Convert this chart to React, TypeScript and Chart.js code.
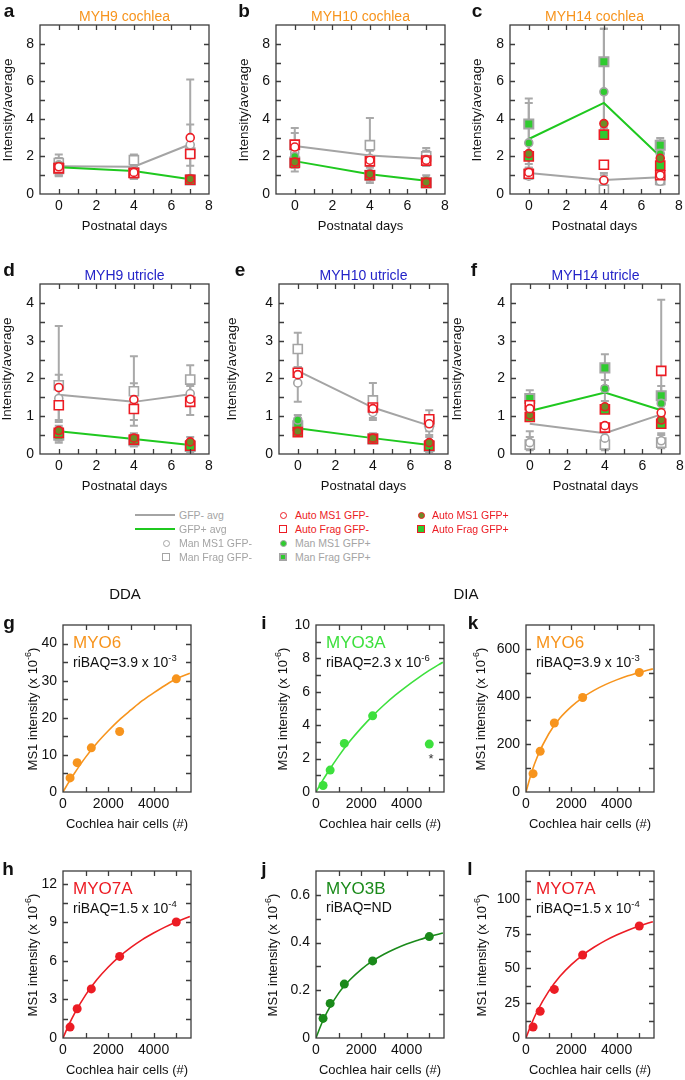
import React, { useEffect, useRef } from "react";
import { Chart, registerables } from "chart.js";

Chart.register(...registerables);

const FONT = "'Liberation Sans', Arial, Helvetica, sans-serif";
Chart.defaults.font.family = FONT;

// ---------------- panels a–f : Intensity/average vs postnatal days ----------------
const days = [0, 4, 7];
const topLetters = ["a", "b", "c", "d", "e", "f"];
const topTitles = ["MYH9 cochlea", "MYH10 cochlea", "MYH14 cochlea", "MYH9 utricle", "MYH10 utricle", "MYH14 utricle"];
const topXTicks = [-1, 0, 1, 2, 3, 4, 5, 6, 7, 8];
const topXLabels = [0, 2, 4, 6, 8];
const cochleaYTicks = [0, 1, 2, 3, 4, 5, 6, 7, 8, 9];
const cochleaYLabels = [0, 2, 4, 6, 8];
const utricleYTicks = [0, 0.5, 1, 1.5, 2, 2.5, 3, 3.5, 4, 4.5];
const utricleYLabels = [0, 1, 2, 3, 4];
const topYMax = [9, 9, 9, 4.5, 4.5, 4.5];

const gfpNegAvg = [[1.48, 1.45, 2.65], [2.55, 2.05, 1.88], [1.12, 0.75, 0.89], [1.57, 1.38, 1.58], [2.2, 1.23, 0.75], [0.8, 0.55, 1.05]];
const gfpPosAvg = [[1.42, 1.22, 0.78], [1.75, 1.05, 0.7], [2.93, 4.85, 2.0], [0.6, 0.4, 0.24], [0.68, 0.42, 0.24], [1.14, 1.63, 1.16]];

const manMs1Neg = [[1.45, 1.3, 2.62], [2.2, 1.9, 1.85], [0.95, 0.72, 0.68], [1.47, 1.3, 1.6], [1.88, 1.1, 0.7], [0.3, 0.42, 0.35]];
const manMs1NegLo = [[1.0, 0.95, 1.5], [1.5, 1.5, 1.5], [0.8, 0.4, 0.5], [0.9, 0.9, 1.03], [1.38, 0.9, 0.5], [0.15, 0.25, 0.2]];
const manMs1NegHi = [[1.9, 1.75, 3.7], [3.25, 2.3, 2.3], [1.3, 1.12, 0.9], [2.1, 1.87, 1.8], [2.3, 1.4, 0.95], [0.6, 0.6, 0.55]];

const manFragNeg = [[1.65, 1.8, 2.2], [2.6, 2.6, 2.0], [1.05, 0.23, 0.75], [1.82, 1.66, 1.97], [2.78, 1.42, 0.85], [0.25, 0.25, 0.3]];
const manFragNegLo = [[0.95, 0.8, 1.0], [1.7, 1.2, 1.5], [0.85, 0.1, 0.55], [0.85, 0.75, 1.3], [2.3, 0.95, 0.6], [0.1, 0.1, 0.15]];
const manFragNegHi = [[2.1, 2.1, 6.1], [3.52, 4.05, 2.45], [1.4, 1.0, 1.0], [3.39, 2.59, 2.35], [3.21, 1.88, 1.16], [0.45, 0.45, 0.5]];

const autoMs1Neg = [[1.45, 1.15, 3.0], [2.5, 1.8, 1.8], [1.15, 0.73, 1.0], [1.76, 1.44, 1.45], [2.1, 1.2, 0.8], [1.2, 0.75, 1.09]];
const autoFragNeg = [[1.38, 1.12, 2.13], [2.63, 1.74, 1.78], [1.08, 1.56, 1.0], [1.29, 1.19, 1.38], [2.15, 1.23, 0.92], [1.29, 0.7, 2.2]];

const manMs1Pos = [[1.55, 1.22, 0.82], [2.0, 1.1, 0.75], [2.72, 5.44, 2.15], [0.55, 0.4, 0.3], [0.9, 0.42, 0.3], [1.1, 1.73, 1.34]];
const manMs1PosLo = [[1.2, 0.95, 0.6], [1.4, 0.7, 0.5], [1.4, 3.0, 1.6], [0.35, 0.25, 0.1], [0.7, 0.3, 0.1], [0.9, 1.4, 1.0]];
const manMs1PosHi = [[1.9, 1.5, 1.0], [2.5, 1.5, 1.0], [4.85, 8.8, 2.85], [0.75, 0.55, 0.45], [1.03, 0.55, 0.45], [1.5, 1.96, 1.8]];

const manFragPos = [[1.35, 1.15, 0.75], [1.7, 1.0, 0.6], [3.73, 7.04, 2.6], [0.5, 0.35, 0.2], [0.75, 0.4, 0.2], [1.47, 2.28, 1.54]];
const manFragPosLo = [[1.0, 0.8, 0.55], [1.2, 0.59, 0.45], [1.6, 3.5, 2.0], [0.3, 0.2, 0.05], [0.5, 0.3, 0.05], [1.2, 1.8, 1.2]];
const manFragPosHi = [[1.7, 1.45, 0.95], [2.3, 1.4, 0.85], [5.08, 8.8, 2.98], [0.7, 0.5, 0.35], [0.95, 0.5, 0.35], [1.69, 2.64, 4.08]];

const autoMs1Pos = [[1.4, 1.15, 0.8], [1.7, 1.05, 0.62], [2.15, 3.75, 1.9], [0.62, 0.42, 0.32], [0.6, 0.42, 0.3], [1.03, 1.25, 0.9]];
const autoFragPos = [[1.38, 1.12, 0.76], [1.65, 1.0, 0.59], [2.0, 3.16, 1.51], [0.56, 0.38, 0.22], [0.58, 0.4, 0.22], [0.98, 1.18, 0.8]];

// ---------------- panels g–l : MS1 intensity vs cochlea hair cells ----------------
const cells = [312, 625, 1250, 2500, 5000];
const fitCells = [0, 250, 500, 1000, 1500, 2000, 2500, 3000, 3500, 4000, 4500, 5000, 5600];
const bottomLetters = ["g", "h", "i", "j", "k", "l"];
const proteins = ["MYO6", "MYO7A", "MYO3A", "MYO3B", "MYO6", "MYO7A"];
const riBAQMantissa = ["3.9 x 10", "1.5 x 10", "2.3 x 10", "ND", "3.9 x 10", "1.5 x 10"];
const riBAQExponent = ["-3", "-4", "-6", "", "-3", "-4"];
const ms1Points = [
  [3.8, 7.9, 11.9, 16.3, 30.5],
  [0.85, 2.28, 3.82, 6.35, 9.03],
  [0.39, 1.31, 2.91, 4.56, 2.87],
  [0.082, 0.145, 0.226, 0.323, 0.425],
  [77, 171, 289, 396, 501],
  [7.9, 19.2, 34.9, 59.6, 80.5],
];
const ms1Fit = [
  [0, 2.6, 5.0, 9.4, 13.2, 16.5, 19.5, 22.1, 24.6, 26.7, 28.7, 30.5, 32.0],
  [0, 1.0, 1.88, 3.36, 4.55, 5.53, 6.35, 7.05, 7.66, 8.17, 8.63, 9.03, 9.46],
  [0, 0.59, 1.14, 2.15, 3.05, 3.84, 4.56, 5.21, 5.8, 6.33, 6.82, 7.28, 7.77],
  [0, 0.061, 0.111, 0.188, 0.244, 0.288, 0.323, 0.351, 0.374, 0.394, 0.41, 0.425, 0.44],
  [0, 83, 148, 243, 310, 358, 396, 426, 450, 470, 487, 501, 516],
  [0, 10.5, 19.4, 33.5, 44.3, 52.7, 59.6, 65.2, 70.0, 74.0, 77.5, 80.5, 83.6],
];
const bottomXTicks = [0, 1000, 2000, 3000, 4000, 5000];
const bottomXLabels = [0, 2000, 4000];
const bottomYMax = [45, 13, 10, 0.7, 700, 120];
const bottomYTicks = [
  [0, 5, 10, 15, 20, 25, 30, 35, 40],
  [0, 1.5, 3, 4.5, 6, 7.5, 9, 10.5, 12],
  [0, 1, 2, 3, 4, 5, 6, 7, 8, 9, 10],
  [0, 0.1, 0.2, 0.3, 0.4, 0.5, 0.6, 0.7],
  [0, 100, 200, 300, 400, 500, 600, 700],
  [0, 12.5, 25, 37.5, 50, 62.5, 75, 87.5, 100, 112.5],
];
const bottomYLabels = [
  [0, 10, 20, 30, 40],
  [0, 3, 6, 9, 12],
  [0, 2, 4, 6, 8, 10],
  [0, 0.2, 0.4, 0.6],
  [0, 200, 400, 600],
  [0, 25, 50, 75, 100],
];

// ---------------- styles / layout ----------------
const GRAY = "#A4A4A4";
const RED = "#EC1C24";
const GREEN = "#2FCB2F";
const GREEN_LINE = "#1FC81F";
const OLIVE = "#6E8C28";
const ORANGE = "#F7941D";
const BLUE = "#2323C8";
const bottomColors = [ORANGE, RED, "#3DE03D", "#1A8A1A", ORANGE, RED];

const topBoxes = [[40, 25, 169, 169], [276, 25, 169, 169], [510, 25, 169, 169], [40, 284, 169, 170], [279, 284, 169, 170], [511, 284, 169, 170]];
const topYTitleX = [8, 244, 477, 7, 232, 457];
const topLetterX = [9, 244, 477, 9, 240, 474];
const bottomBoxes = [[63, 625, 128, 167], [63, 871, 128, 167], [316, 625, 128, 167], [316, 871, 128, 167], [526, 625, 128, 167], [526, 871, 128, 167]];
const bottomYTitleOff = [32, 32, 35, 45, 47, 46];
const bottomLetterX = [9, 8, 264, 264, 473, 470];
const PAD_L = 48, PAD_R = 12, PAD_T = 18, PAD_B = 40;

const near = (list: number[], v: number) => list.some((u) => Math.abs(u - v) < 1e-6);
const fmt = (v: number) => String(Math.round(v * 1000) / 1000);

const framePlugin = {
  id: "frame",
  afterDatasetsDraw(chart: any) {
    const { ctx, chartArea: a, scales } = chart;
    const tl = 5;
    ctx.save();
    ctx.strokeStyle = "#3c3c3c";
    ctx.lineWidth = 1.3;
    ctx.beginPath();
    for (const t of scales.x.ticks) {
      const px = Math.round(scales.x.getPixelForValue(t.value)) + 0.5;
      if (px <= a.left + 1 || px >= a.right - 1) continue;
      ctx.moveTo(px, a.bottom); ctx.lineTo(px, a.bottom - tl);
      ctx.moveTo(px, a.top); ctx.lineTo(px, a.top + tl);
    }
    for (const t of scales.y.ticks) {
      const py = Math.round(scales.y.getPixelForValue(t.value)) + 0.5;
      if (py <= a.top + 1 || py >= a.bottom - 1) continue;
      ctx.moveTo(a.left, py); ctx.lineTo(a.left + tl, py);
      ctx.moveTo(a.right, py); ctx.lineTo(a.right - tl, py);
    }
    ctx.stroke();
    ctx.strokeRect(a.left, a.top, a.right - a.left, a.bottom - a.top);
    ctx.restore();
  },
};

const errPlugin = {
  id: "errbars",
  beforeDatasetsDraw(chart: any) {
    const { ctx, scales } = chart;
    ctx.save();
    ctx.strokeStyle = "#A9A9A9";
    ctx.lineWidth = 2;
    chart.data.datasets.forEach((ds: any) => {
      if (!ds.errLo) return;
      ds.data.forEach((pt: any, i: number) => {
        const px = scales.x.getPixelForValue(pt.x);
        const y1 = scales.y.getPixelForValue(ds.errLo[i]);
        const y2 = scales.y.getPixelForValue(ds.errHi[i]);
        ctx.beginPath();
        ctx.moveTo(px, y1); ctx.lineTo(px, y2);
        ctx.moveTo(px - 4, y1); ctx.lineTo(px + 4, y1);
        ctx.moveTo(px - 4, y2); ctx.lineTo(px + 4, y2);
        ctx.stroke();
      });
    });
    ctx.restore();
  },
};

function axis(min: number, max: number, ticks: number[], labels: number[]) {
  return {
    type: "linear",
    min,
    max,
    afterBuildTicks: (s: any) => { s.ticks = ticks.map((v) => ({ value: v })); },
    ticks: { callback: (v: number) => (near(labels, v) ? fmt(v) : "") },
  };
}

function baseOptions(xScale: any, yScale: any, xTitle: string) {
  return {
    responsive: false,
    animation: false,
    devicePixelRatio: 1,
    events: [],
    layout: { padding: { top: PAD_T, right: PAD_R, left: 0, bottom: 0 } },
    plugins: { legend: { display: false }, tooltip: { enabled: false }, title: { display: false } },
    scales: {
      x: {
        ...xScale,
        grid: { display: false, drawTicks: false },
        border: { display: false },
        ticks: { ...xScale.ticks, padding: 4, color: "#111", font: { size: 14, family: FONT }, maxRotation: 0, minRotation: 0, autoSkip: false },
        title: { display: true, text: xTitle, color: "#111", font: { size: 13, family: FONT }, padding: 0 },
        afterFit: (s: any) => { s.height = PAD_B; },
      },
      y: {
        ...yScale,
        grid: { display: false, drawTicks: false },
        border: { display: false },
        ticks: { ...yScale.ticks, padding: 6, color: "#111", font: { size: 14, family: FONT }, autoSkip: false },
        afterFit: (s: any) => { s.width = PAD_L; },
      },
    },
  };
}

function topConfig(p: number) {
  const mk = (arr: number[][]) => days.map((d, i) => ({ x: d, y: arr[p][i] }));
  const cochlea = p < 3;
  const marker = (data: any, style: string, border: string, fill: string, order: number, extra: any = {}) => ({
    data, pointStyle: style, pointRadius: style === "rect" ? 6.4 : 4, borderWidth: 1.6,
    borderColor: border, backgroundColor: fill, showLine: false, order, ...extra,
  });
  return {
    type: "scatter",
    data: {
      datasets: [
        marker(mk(autoMs1Neg), "circle", RED, "#fff", 1),
        marker(mk(autoFragNeg), "rect", RED, "#fff", 2),
        marker(mk(autoMs1Pos), "circle", RED, OLIVE, 3),
        marker(mk(autoFragPos), "rect", RED, GREEN, 4),
        marker(mk(manMs1Pos), "circle", GRAY, GREEN, 5, { errLo: manMs1PosLo[p], errHi: manMs1PosHi[p] }),
        marker(mk(manFragPos), "rect", GRAY, GREEN, 6, { borderWidth: 2, errLo: manFragPosLo[p], errHi: manFragPosHi[p] }),
        marker(mk(manMs1Neg), "circle", GRAY, "#fff", 7, { errLo: manMs1NegLo[p], errHi: manMs1NegHi[p] }),
        marker(mk(manFragNeg), "rect", GRAY, "#fff", 8, { errLo: manFragNegLo[p], errHi: manFragNegHi[p] }),
        { data: mk(gfpPosAvg), showLine: true, pointRadius: 0, borderColor: GREEN_LINE, borderWidth: 2, order: 9 },
        { data: mk(gfpNegAvg), showLine: true, pointRadius: 0, borderColor: GRAY, borderWidth: 2, order: 10 },
      ],
    },
    options: baseOptions(
      axis(-1, 8, topXTicks, topXLabels),
      axis(0, topYMax[p], cochlea ? cochleaYTicks : utricleYTicks, cochlea ? cochleaYLabels : utricleYLabels),
      "Postnatal days"
    ),
    plugins: [errPlugin, framePlugin],
  };
}

function bottomConfig(q: number) {
  const c = bottomColors[q];
  return {
    type: "scatter",
    data: {
      datasets: [
        { data: cells.map((x, i) => ({ x, y: ms1Points[q][i] })), pointRadius: 4.5, backgroundColor: c, borderColor: c, borderWidth: 0, order: 1 },
        { data: fitCells.map((x, i) => ({ x, y: ms1Fit[q][i] })), showLine: true, pointRadius: 0, borderColor: c, borderWidth: 1.6, cubicInterpolationMode: "monotone", order: 2 },
      ],
    },
    options: baseOptions(
      axis(0, 5650, bottomXTicks, bottomXLabels),
      axis(0, bottomYMax[q], bottomYTicks[q], bottomYLabels[q]),
      "Cochlea hair cells (#)"
    ),
    plugins: [framePlugin],
  };
}

function ChartCanvas({ box, make }: { box: number[]; make: () => any }) {
  const ref = useRef<HTMLCanvasElement>(null);
  const [l, t, w, h] = box;
  const cw = PAD_L + w + PAD_R;
  const ch = PAD_T + h + PAD_B;
  useEffect(() => {
    const chart = new Chart(ref.current as HTMLCanvasElement, make());
    return () => chart.destroy();
  }, []);
  return <canvas ref={ref} width={cw} height={ch} style={{ position: "absolute", left: l - PAD_L, top: t - PAD_T, width: cw, height: ch }} />;
}

function T({ x, y, children, style = {}, anchor = "center" }: any) {
  const tr = anchor === "left" ? "translate(0,-50%)" : "translate(-50%,-50%)";
  return (
    <div style={{ position: "absolute", left: x, top: y, transform: tr, whiteSpace: "nowrap", lineHeight: 1, fontFamily: FONT, color: "#111", ...style }}>
      {children}
    </div>
  );
}

function VT({ x, y, children, size = 13.5 }: any) {
  return (
    <div style={{ position: "absolute", left: x, top: y, transform: "translate(-50%,-50%) rotate(-90deg)", whiteSpace: "nowrap", lineHeight: 1, fontFamily: FONT, fontSize: size, color: "#111" }}>
      {children}
    </div>
  );
}

function LegendMarker({ x, y, kind, border, fill, bw = 1.5 }: any) {
  if (kind === "line") {
    return <div style={{ position: "absolute", left: x - 20, top: y - 1, width: 40, height: 2, background: border }} />;
  }
  const s = kind === "circle" ? 7 : 8;
  return (
    <div style={{ position: "absolute", left: x - s / 2, top: y - s / 2, width: s, height: s, boxSizing: "border-box", border: `${bw}px solid ${border}`, background: fill, borderRadius: kind === "circle" ? "50%" : 0 }} />
  );
}

const legendRows = [515, 529, 543, 557];
const legendItems = [
  { col: 0, row: 0, kind: "line", border: GRAY, fill: "", text: "GFP- avg", color: GRAY },
  { col: 0, row: 1, kind: "line", border: GREEN_LINE, fill: "", text: "GFP+ avg", color: GRAY },
  { col: 0, row: 2, kind: "circle", border: GRAY, fill: "#fff", text: "Man MS1 GFP-", color: GRAY },
  { col: 0, row: 3, kind: "square", border: GRAY, fill: "#fff", text: "Man Frag GFP-", color: GRAY },
  { col: 1, row: 0, kind: "circle", border: RED, fill: "#fff", text: "Auto MS1 GFP-", color: RED },
  { col: 1, row: 1, kind: "square", border: RED, fill: "#fff", text: "Auto Frag GFP-", color: RED },
  { col: 1, row: 2, kind: "circle", border: GRAY, fill: GREEN, text: "Man MS1 GFP+", color: GRAY },
  { col: 1, row: 3, kind: "square", border: GRAY, fill: GREEN, text: "Man Frag GFP+", color: GRAY, bw: 2 },
  { col: 2, row: 0, kind: "circle", border: RED, fill: OLIVE, text: "Auto MS1 GFP+", color: RED },
  { col: 2, row: 1, kind: "square", border: RED, fill: GREEN, text: "Auto Frag GFP+", color: RED },
];
const legendMarkerX = [166, 283, 421];
const legendLineX = 155;
const legendTextX = [179, 295, 432];

export default function App() {
  return (
    <div style={{ position: "absolute", left: 0, top: 0, width: 685, height: 1080, background: "#fff", overflow: "hidden" }}>
      {topBoxes.map((b, p) => (
        <ChartCanvas key={"t" + p} box={b} make={() => topConfig(p)} />
      ))}
      {bottomBoxes.map((b, q) => (
        <ChartCanvas key={"b" + q} box={b} make={() => bottomConfig(q)} />
      ))}

      {topBoxes.map((b, p) => (
        <React.Fragment key={"tt" + p}>
          <T x={b[0] + b[2] / 2} y={b[1] - 9} style={{ fontSize: 14, color: p < 3 ? ORANGE : BLUE }}>{topTitles[p]}</T>
          <VT x={topYTitleX[p]} y={b[1] + b[3] / 2}>Intensity/average</VT>
          <T x={topLetterX[p]} y={b[1] - 15} style={{ fontSize: 19, fontWeight: "bold" }}>{topLetters[p]}</T>
        </React.Fragment>
      ))}

      {bottomBoxes.map((b, q) => (
        <React.Fragment key={"bt" + q}>
          <VT x={b[0] - bottomYTitleOff[q]} y={b[1] + b[3] / 2} size={13}>
            MS1 intensity (x 10<sup style={{ fontSize: 9, verticalAlign: "6px" }}>-6</sup>)
          </VT>
          <T x={b[0] + 10} y={b[1] + 17} anchor="left" style={{ fontSize: 17, color: bottomColors[q] }}>{proteins[q]}</T>
          <T x={b[0] + 10} y={b[1] + 36} anchor="left" style={{ fontSize: 14 }}>
            riBAQ={riBAQMantissa[q]}
            {riBAQExponent[q] ? <sup style={{ fontSize: 9.5, verticalAlign: "6px" }}>{riBAQExponent[q]}</sup> : null}
          </T>
          <T x={bottomLetterX[q]} y={b[1] - 3} style={{ fontSize: 19, fontWeight: "bold" }}>{bottomLetters[q]}</T>
        </React.Fragment>
      ))}

      <T x={431} y={758} style={{ fontSize: 13, color: "#333" }}>*</T>
      <T x={125} y={593} style={{ fontSize: 15 }}>DDA</T>
      <T x={466} y={593} style={{ fontSize: 15 }}>DIA</T>

      {legendItems.map((it, k) => (
        <React.Fragment key={"lg" + k}>
          <LegendMarker x={it.kind === "line" ? legendLineX : legendMarkerX[it.col]} y={legendRows[it.row]} kind={it.kind} border={it.border} fill={it.fill} bw={it.bw} />
          <T x={legendTextX[it.col]} y={legendRows[it.row]} anchor="left" style={{ fontSize: 10.5, color: it.color }}>{it.text}</T>
        </React.Fragment>
      ))}
    </div>
  );
}
